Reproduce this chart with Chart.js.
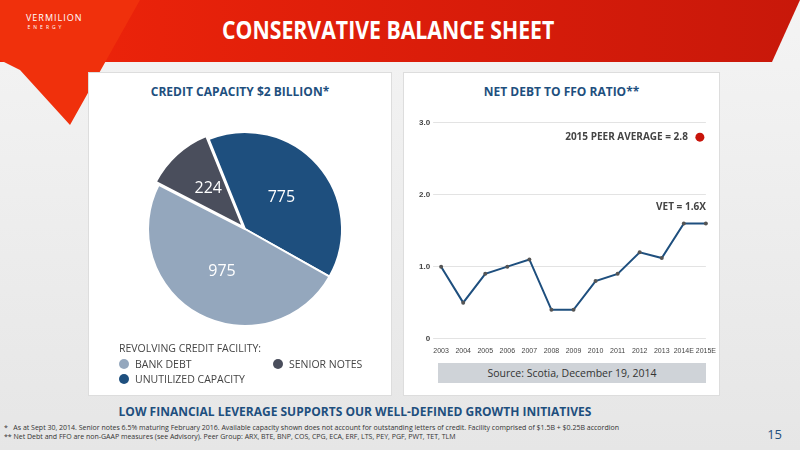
<!DOCTYPE html>
<html><head><meta charset="utf-8">
<script src="https://cdn.jsdelivr.net/npm/chart.js@4"></script>
<style>
body{margin:0;width:800px;height:450px;overflow:hidden;background:linear-gradient(#f4f4f4,#e6e6e6);font-family:"Open Sans",sans-serif;position:relative}
#hdr{position:absolute;left:0;top:0;width:800px;height:62px;background:linear-gradient(90deg,#f0250a,#d81c0a 60%,#c8180a);clip-path:polygon(0 0,800px 0,772px 62px,0 62px)}
#tri{position:absolute;left:0;top:0;width:140px;height:125px;background:#f0300c;clip-path:polygon(0 0,140px 0,70px 125px,20px 70px,0 60px)}
#logo{position:absolute;left:26px;top:11px;color:#fff;font-size:9px;letter-spacing:1px;text-align:center;width:40px}
#title{position:absolute;left:222px;top:12px;color:#fff;font-size:25px;font-weight:700;font-family:"Open Sans";transform:scaleX(.85);transform-origin:left}
.panel{position:absolute;background:#fff;border:1px solid #ddd;top:72px;height:322px}
#p1{left:88px;width:302px}#p2{left:403px;width:315px}
.ph{position:absolute;top:10px;width:100%;text-align:center;color:#1e4f7e;font-weight:700;font-size:12px}
.lg{position:absolute;font-size:10.5px;color:#444}
.dot{display:inline-block;width:10px;height:10px;border-radius:5px;margin-right:6px;vertical-align:-1px}
#foot{position:absolute;left:0;top:403px;width:800px}
</style></head><body>
<div id="hdr"></div><div id="tri"></div>
<div id="logo">VERMILION<div style="font-size:5px;letter-spacing:3px">ENERGY</div></div>
<div id="title">CONSERVATIVE BALANCE SHEET</div>
<div class="panel" id="p1"><div class="ph">CREDIT CAPACITY $2 BILLION*</div>
<canvas id="pie" style="position:absolute;left:36px;top:36px" width="240" height="240"></canvas>
<div class="lg" style="left:30px;top:268px">REVOLVING CREDIT FACILITY:</div>
<div class="lg" style="left:30px;top:284px"><span class="dot" style="background:#94a7bd"></span>BANK DEBT</div>
<div class="lg" style="left:30px;top:299px"><span class="dot" style="background:#1e4f7e"></span>UNUTILIZED CAPACITY</div>
<div class="lg" style="left:184px;top:284px"><span class="dot" style="background:#4a4e5c"></span>SENIOR NOTES</div>
</div>
<div class="panel" id="p2"><div class="ph">NET DEBT TO FFO RATIO**</div>
<canvas id="line" style="position:absolute;left:0;top:42px" width="312" height="240"></canvas>
<div style="position:absolute;left:34px;top:290px;width:268px;height:20px;background:#cfd3d8;text-align:center;font-size:10.5px;line-height:20px;color:#333">Source: Scotia, December 19, 2014</div>
</div>
<div id="foot">
<div style="text-align:center;color:#1e4f7e;font-weight:700;font-size:12px;margin-left:-90px">LOW FINANCIAL LEVERAGE SUPPORTS OUR WELL-DEFINED GROWTH INITIATIVES</div>
<div style="font-size:7px;color:#333;margin-left:4px;margin-top:3px">*&nbsp;&nbsp; As at Sept 30, 2014. Senior notes 6.5% maturing February 2016. Available capacity shown does not account for outstanding letters of credit. Facility comprised of $1.5B + $0.25B accordion<br>** Net Debt and FFO are non-GAAP measures (see Advisory). Peer Group: ARX, BTE, BNP, COS, CPG, ECA, ERF, LTS, PEY, PGF, PWT, TET, TLM</div>
<div style="position:absolute;right:18px;top:22px;color:#1e4f7e;font-size:13px">15</div>
</div>
<script>
const pieLabels=["Unutilized Capacity","Bank Debt","Senior Notes"];
const pieValues=[775,975,224];
const pieColors=["#1e4f7e","#94a7bd","#4a4e5c"];
const years=["2003","2004","2005","2006","2007","2008","2009","2010","2011","2012","2013","2014E","2015E"];
const ratio=[1.0,0.5,0.9,1.0,1.1,0.4,0.4,0.8,0.9,1.2,1.12,1.6,1.6];
const yTicks=[0,1,2,3];

new Chart(document.getElementById("pie"),{type:"pie",
 data:{labels:pieLabels,datasets:[{data:pieValues,backgroundColor:pieColors,borderColor:"#fff",borderWidth:2,offset:[0,0,12]}]},
 options:{responsive:false,animation:false,rotation:-22,layout:{padding:16},plugins:{legend:{display:false},tooltip:{enabled:false}}},
 plugins:[{id:"lbl",afterDatasetsDraw(c){const x=c.ctx;x.save();x.font="16px 'Open Sans'";x.textAlign="center";x.textBaseline="middle";
  c.getDatasetMeta(0).data.forEach((a,i)=>{const p=a.tooltipPosition();x.fillStyle="#fff";x.fillText(pieValues[i],p.x,p.y);});x.restore();}}]});

new Chart(document.getElementById("line"),{type:"line",
 data:{labels:years,datasets:[{data:ratio,borderColor:"#1e4f7e",borderWidth:2,pointRadius:2,pointBackgroundColor:"#555",pointBorderWidth:0,tension:0}]},
 options:{responsive:false,animation:false,layout:{padding:{right:6,top:4,left:12}},
  plugins:{legend:{display:false},tooltip:{enabled:false}},
  scales:{x:{offset:false,grid:{display:false},border:{display:false},ticks:{font:{size:7},color:"#444",maxRotation:0,autoSkip:false,padding:0}},
   y:{min:0,max:3,afterBuildTicks(s){s.ticks=yTicks.map(v=>({value:v}));},grid:{color:"#e3e3e3"},border:{display:false},
    ticks:{font:{size:8,weight:"bold"},color:"#444",callback:v=>v===0?"0":v.toFixed(1)}}}},
 plugins:[{id:"ann",afterDatasetsDraw(c){const x=c.ctx,ys=c.scales.y,xs=c.scales.x;x.save();x.font="bold 10px 'Open Sans'";x.fillStyle="#444";x.textAlign="right";
  x.fillText("2015 PEER AVERAGE = 2.8",xs.right-18,ys.getPixelForValue(2.8)+3);
  x.fillStyle="#c8140a";x.beginPath();x.arc(xs.right-6,ys.getPixelForValue(2.8),4.5,0,7);x.fill();
  x.fillStyle="#444";x.fillText("VET = 1.6X",xs.right,ys.getPixelForValue(1.6)-14);x.restore();}}]});
</script></body></html>
